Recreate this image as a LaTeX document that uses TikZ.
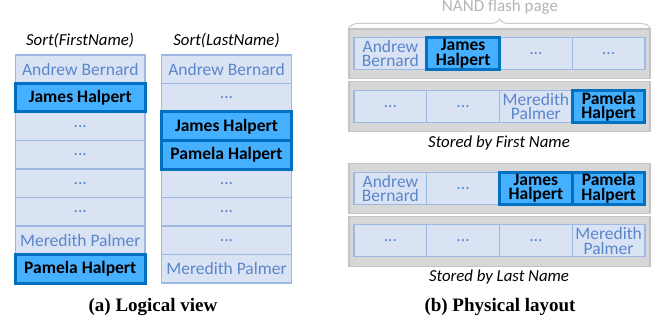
\documentclass[tikz,border=0pt]{standalone}
\usepackage{fontspec}
\setmainfont{Carlito}
\newfontfamily\capfont{Liberation Serif}
\usetikzlibrary{decorations.pathreplacing}
\definecolor{cellfill}{HTML}{DAE3F3}
\definecolor{celldraw}{HTML}{9DB9E3}
\definecolor{celltext}{HTML}{5A86CC}
\definecolor{hifill}{HTML}{45B0FF}
\definecolor{hidraw}{HTML}{0070C0}
\definecolor{pagefill}{HTML}{D7D7D7}
\definecolor{pagedraw}{HTML}{C4C4C4}
\definecolor{nandgray}{HTML}{B4B4B4}
\tikzset{
  cellbase/.style={draw=celldraw, fill=cellfill, line width=1.2pt, inner sep=0pt,
    text=celltext, font=\fontsize{17.5}{14.5}\selectfont, align=center},
  lcell/.style={cellbase, minimum width=129.5pt, minimum height=28.5pt},
  pcell/.style={cellbase, minimum width=72.75pt, minimum height=32pt},
  hicell/.style={draw=hidraw, fill=hifill, line width=3pt, text=black,
    font=\fontsize{17.5}{14.5}\selectfont\bfseries},
  pagebox/.style={draw=pagedraw, fill=pagefill, line width=1.2pt,
    minimum width=301pt, minimum height=49.5pt, inner sep=0pt},
  hdr/.style={font=\fontsize{16.8}{18}\selectfont\itshape, text=black},
  caption/.style={font=\fontsize{19}{21}\capfont\bfseries, text=black}
}
\begin{document}
\begin{tikzpicture}[x=1pt,y=-1pt]
\useasboundingbox (0,0) rectangle (670,321);
% ---- Logical view ----
\node[hdr] (h1) at (80,41) {Sort(FirstName)};
\node[hdr] (h2) at (226.5,41) {Sort(LastName)};
% column 1
\node[lcell] (a0) at (80.25,69.25) {Andrew Bernard};
\node[lcell] (a1) at (80.25,97.75) {};
\node[lcell] (a2) at (80.25,126.25) {...};
\node[lcell] (a3) at (80.25,154.75) {...};
\node[lcell] (a4) at (80.25,183.25) {...};
\node[lcell] (a5) at (80.25,211.75) {...};
\node[lcell] (a6) at (80.25,240.25) {Meredith Palmer};
\node[lcell] (a7) at (80.25,268.75) {};
\node[lcell,hicell] (a1h) at (a1) {James Halpert};
\node[lcell,hicell] (a7h) at (a7) {Pamela Halpert};
% column 2
\node[lcell] (b0) at (226.5,69.25) {Andrew Bernard};
\node[lcell] (b1) at (226.5,97.75) {...};
\node[lcell] (b2) at (226.5,126.25) {};
\node[lcell] (b3) at (226.5,154.75) {};
\node[lcell] (b4) at (226.5,183.25) {...};
\node[lcell] (b5) at (226.5,211.75) {...};
\node[lcell] (b6) at (226.5,240.25) {...};
\node[lcell] (b7) at (226.5,268.75) {Meredith Palmer};
\node[lcell,hicell] (b2h) at (b2) {James Halpert};
\node[lcell,hicell] (b3h) at (b3) {Pamela Halpert};
\node[caption] (capa) at (153,307) {(a) Logical view};
% ---- Physical layout ----
\node[font=\fontsize{17}{18}\selectfont, text=nandgray] (nand) at (500,7) {NAND flash page};
\coordinate (brl) at (349,28);
\coordinate (brr) at (650,28);
\draw[nandgray!70, line width=1pt, decorate, decoration={brace, amplitude=9pt}] (brl) -- (brr);
% page 1
\node[pagebox] (p1) at (499.5,53.75) {};
\node[pcell] (p1c1) at (390.4,53.5) {Andrew\\Bernard};
\node[pcell] (p1c2) at (463.1,53.5) {};
\node[pcell] (p1c3) at (535.9,53.5) {...};
\node[pcell] (p1c4) at (608.6,53.5) {...};
\node[pcell,hicell] (p1c2h) at (p1c2) {James\\Halpert};
% page 2
\node[pagebox] (p2) at (499.5,106.5) {};
\node[pcell] (p2c1) at (390.4,106.5) {...};
\node[pcell] (p2c2) at (463.1,106.5) {...};
\node[pcell] (p2c3) at (535.9,106.5) {Meredith\\Palmer};
\node[pcell] (p2c4) at (608.6,106.5) {};
\node[pcell,hicell] (p2c4h) at (p2c4) {Pamela\\Halpert};
\node[hdr] (s1) at (499,143) {Stored by First Name};
% page 3
\node[pagebox] (p3) at (499.5,188.5) {};
\node[pcell] (p3c1) at (390.4,188.3) {Andrew\\Bernard};
\node[pcell] (p3c2) at (463.1,188.3) {...};
\node[pcell] (p3c3) at (535.9,188.3) {};
\node[pcell] (p3c4) at (608.6,188.3) {};
\node[pcell,hicell] (p3c3h) at (p3c3) {James\\Halpert};
\node[pcell,hicell] (p3c4h) at (p3c4) {Pamela\\Halpert};
% page 4
\node[pagebox] (p4) at (499.5,241.5) {};
\node[pcell] (p4c1) at (390.4,240.8) {...};
\node[pcell] (p4c2) at (463.1,240.8) {...};
\node[pcell] (p4c3) at (535.9,240.8) {...};
\node[pcell] (p4c4) at (608.6,240.8) {Meredith\\Palmer};
\node[hdr] (s2) at (499,277) {Stored by Last Name};
\node[caption] (capb) at (500,307) {(b) Physical layout};
\end{tikzpicture}
\end{document}
